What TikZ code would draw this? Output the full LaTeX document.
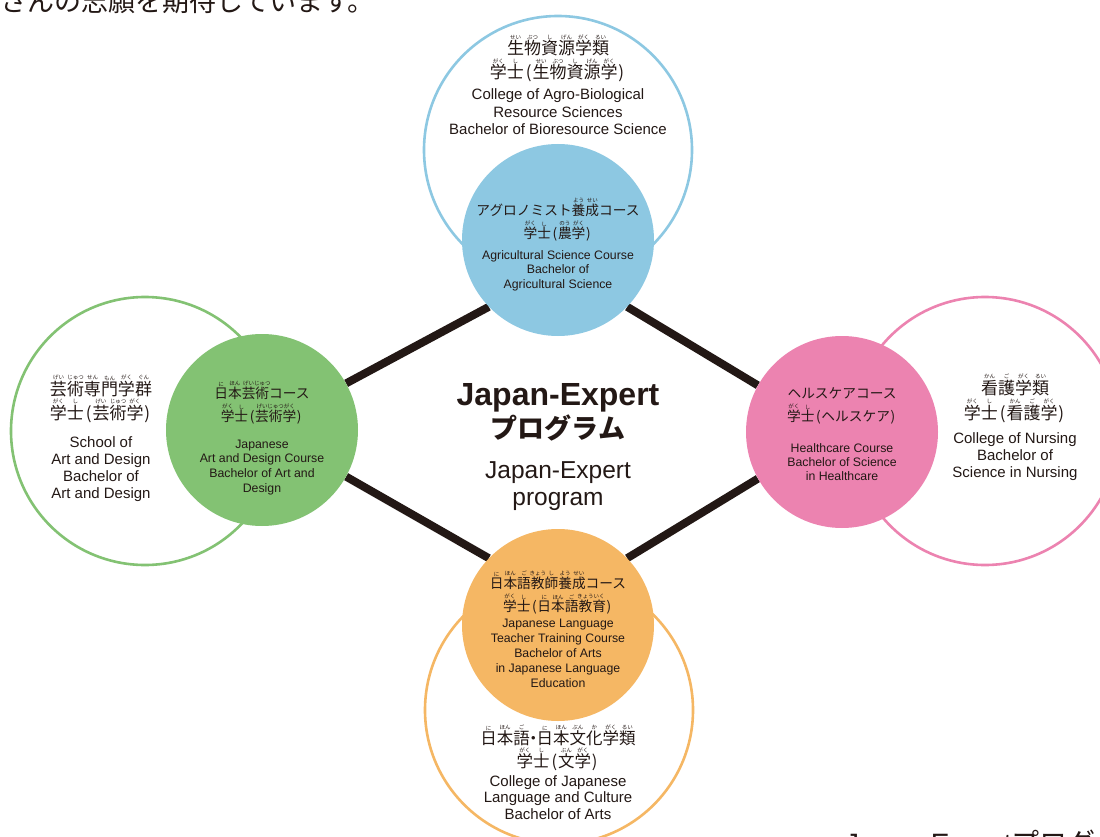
\documentclass[tikz,border=0pt]{standalone}
\usepackage{fontspec}
\setmainfont{Liberation Sans}
\newfontfamily\jp{Noto Sans CJK JP}
\usetikzlibrary{backgrounds}
\definecolor{ink}{HTML}{231815}
\definecolor{agroblue}{HTML}{8DC8E2}
\definecolor{artgreen}{HTML}{83C273}
\definecolor{carepink}{HTML}{EC83B0}
\definecolor{langorange}{HTML}{F5B764}
\newsavebox{\furibox}
\newcommand{\furi}[2]{\sbox{\furibox}{#1}\makebox[0pt][l]{\smash{\raisebox{\dimexpr\ht\furibox+1pt\relax}{\makebox[\wd\furibox]{\fontsize{5.5}{5.5}\selectfont#2}}}}\usebox{\furibox}}
\newcommand{\txtstack}[1]{\begin{tabular}[t]{@{}c@{}}#1\end{tabular}}
\newcommand{\lpar}{\kern0.12em(\kern0.05em}
\newcommand{\rpar}{\kern0.05em)\kern0.12em}

\begin{document}
\begin{tikzpicture}[x=1pt,y=-1pt,
  ring/.style={circle,draw=#1,line width=2.6pt,fill=white,minimum size=268pt,inner sep=0pt},
  course/.style={circle,fill=#1,minimum size=192pt,inner sep=0pt},
  link/.style={draw=ink,line width=8pt},
  ringjp/.style={anchor=base,inner sep=0pt,text=ink,font=\jp\fontsize{17}{24}\selectfont},
  ringen/.style={anchor=base,inner sep=0pt,text=ink,font=\fontsize{15}{17.5}\selectfont},
  coursejp/.style={anchor=base,inner sep=0pt,text=ink,font=\jp\fontsize{13.7}{23.5}\selectfont},
  courseen/.style={anchor=base,inner sep=0pt,text=ink,font=\fontsize{12.3}{14.8}\selectfont}]
\useasboundingbox (0,0) rectangle (1100,837);

\node[course=agroblue] (agrocourse) at (558,240) {};
\node[course=artgreen] (artcourse) at (262,430) {};
\node[course=carepink] (carecourse) at (842,432) {};
\node[course=langorange] (langcourse) at (558,625) {};

\begin{scope}[on background layer]
\node[ring=agroblue] (agroring) at (558,150) {};
\node[ring=artgreen] (artring) at (145,431) {};
\node[ring=carepink] (carering) at (985,431) {};
\node[ring=langorange] (langring) at (559,710) {};
\draw[link] (agrocourse.224) -- (artcourse.29);
\draw[link] (agrocourse.316) -- (carecourse.151);
\draw[link] (langcourse.136) -- (artcourse.331);
\draw[link] (langcourse.44) -- (carecourse.209);
\end{scope}

\node[anchor=base west,inner sep=0pt,text=ink,font=\jp\fontsize{27}{27}\selectfont] (introtail) at (0,12) {さんの志願を期待しています。};
\node[anchor=base west,inner sep=0pt,text=ink,font=\fontsize{28}{28}\selectfont] (nexthead) at (845,853) {Japan-Expert{\jp プログラム}};

\node[ringjp] (agroringjp) at (558,55) {\txtstack{\furi{生}{せい}\furi{物}{ぶつ}\furi{資}{し}\furi{源}{げん}\furi{学}{がく}\furi{類}{るい}\\\furi{学}{がく}\furi{士}{し}\lpar\furi{生}{せい}\furi{物}{ぶつ}\furi{資}{し}\furi{源}{げん}\furi{学}{がく}\rpar}};
\node[ringen] (agroringen) at (558,100) {\txtstack{College of Agro-Biological\\Resource Sciences\\Bachelor of Bioresource Science}};
\node[coursejp] (agrocoursejp) at (558,215) {\txtstack{アグロノミスト\furi{養}{よう}\furi{成}{せい}コース\\\furi{学}{がく}\furi{士}{し}\lpar\furi{農}{のう}\furi{学}{がく}\rpar}};
\node[courseen] (agrocourseen) at (558,259) {\txtstack{Agricultural Science Course\\Bachelor of\\Agricultural Science}};

\node[ringjp] (artringjp) at (101,395) {\txtstack{\furi{芸}{げい}\furi{術}{じゅつ}\furi{専}{せん}\furi{門}{もん}\furi{学}{がく}\furi{群}{ぐん}\\\furi{学}{がく}\furi{士}{し}\lpar\furi{芸}{げい}\furi{術}{じゅつ}\furi{学}{がく}\rpar}};
\node[ringen,font=\fontsize{15}{17}\selectfont] (artringen) at (101,447) {\txtstack{School of\\Art and Design\\Bachelor of\\Art and Design}};
\node[coursejp] (artcoursejp) at (262,398) {\txtstack{\furi{日}{に}\furi{本}{ほん}\furi{芸}{げい}\furi{術}{じゅつ}コース\\\furi{学}{がく}\furi{士}{し}\lpar\furi{芸}{げい}\furi{術}{じゅつ}\furi{学}{がく}\rpar}};
\node[courseen] (artcourseen) at (262,448) {\txtstack{Japanese\\Art and Design Course\\Bachelor of Art and\\Design}};

\node[coursejp] (carecoursejp) at (842,398) {\txtstack{ヘルスケアコース\\\furi{学}{がく}\furi{士}{し}\lpar ヘルスケア\rpar}};
\node[courseen,font=\fontsize{12.3}{14.2}\selectfont] (carecourseen) at (842,452) {\txtstack{Healthcare Course\\Bachelor of Science\\in Healthcare}};
\node[ringjp,font=\jp\fontsize{17}{25}\selectfont] (careringjp) at (1015,394) {\txtstack{\furi{看}{かん}\furi{護}{ご}\furi{学}{がく}\furi{類}{るい}\\\furi{学}{がく}\furi{士}{し}\lpar\furi{看}{かん}\furi{護}{ご}\furi{学}{がく}\rpar}};
\node[ringen,font=\fontsize{15}{17}\selectfont] (careringen) at (1015,443) {\txtstack{College of Nursing\\Bachelor of\\Science in Nursing}};

\node[coursejp] (langcoursejp) at (558,588) {\txtstack{\furi{日}{に}\furi{本}{ほん}\furi{語}{ご}\furi{教}{きょう}\furi{師}{し}\furi{養}{よう}\furi{成}{せい}コース\\\furi{学}{がく}\furi{士}{し}\lpar\furi{日}{に}\furi{本}{ほん}\furi{語}{ご}\furi{教}{きょう}\furi{育}{いく}\rpar}};
\node[courseen,font=\fontsize{12.3}{15.2}\selectfont] (langcourseen) at (558,627) {\txtstack{Japanese Language\\Teacher Training Course\\Bachelor of Arts\\in Japanese Language\\Education}};
\node[ringjp,font=\jp\fontsize{16.5}{23.5}\selectfont] (langringjp) at (558,744) {\txtstack{\furi{日}{に}\furi{本}{ほん}\furi{語}{ご}\kern-0.3em・\kern-0.3em\furi{日}{に}\furi{本}{ほん}\furi{文}{ぶん}\furi{化}{か}\furi{学}{がく}\furi{類}{るい}\\\furi{学}{がく}\furi{士}{し}\lpar\furi{文}{ぶん}\furi{学}{がく}\rpar}};
\node[ringen,font=\fontsize{15}{16.5}\selectfont] (langringen) at (558,786) {\txtstack{College of Japanese\\Language and Culture\\Bachelor of Arts}};

\node[anchor=base,inner sep=0pt,text=ink,font=\bfseries\fontsize{32}{32}\selectfont] (titleen) at (558,405) {Japan-Expert};
\node[anchor=base,inner sep=0pt,text=ink,font=\jp\bfseries\fontsize{27}{27}\selectfont] (titlejp) at (558,438) {プログラム};
\node[anchor=base,inner sep=0pt,text=ink,font=\fontsize{24.5}{24.5}\selectfont] (subtitleen) at (558,478) {Japan-Expert};
\node[anchor=base,inner sep=0pt,text=ink,font=\fontsize{24.5}{24.5}\selectfont] (subtitleprog) at (558,505) {program};
\end{tikzpicture}
\end{document}
